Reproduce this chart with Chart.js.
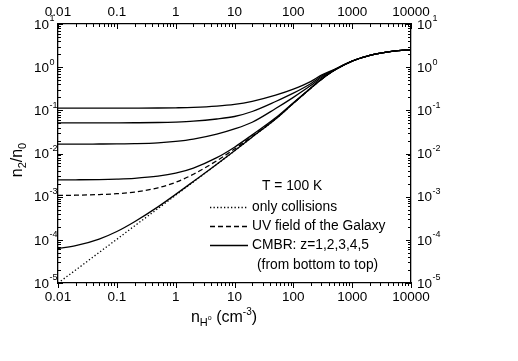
<!DOCTYPE html>
<html>
<head>
<meta charset="utf-8">
<script src="https://cdn.jsdelivr.net/npm/chart.js@4/dist/chart.umd.min.js"></script>
<style>
  html, body { margin: 0; padding: 0; background: #fff; }
  canvas { display: block; }
</style>
</head>
<body>
<canvas id="chartPoblacion" width="518" height="361"></canvas>
<script>
// densidad n_H (cm^-3)
const densidades = [0.01, 0.02, 0.05, 0.1, 0.2, 0.5, 1, 2, 5, 10, 20, 50, 100, 200, 300, 500, 1000, 2000, 5000, 10000];

// n2/n0
const soloColisiones = [1.0e-5, 2.0e-5, 5.1e-5, 1.03e-4, 2.1e-4, 5.3e-4, 1.08e-3, 2.2e-3, 5.6e-3, 1.15e-2, 2.4e-2, 6.3e-2, 0.145, 0.33, 0.52, 0.85, 1.38, 1.88, 2.35, 2.52];
const campoUV = [1.07e-3, 1.08e-3, 1.12e-3, 1.17e-3, 1.28e-3, 1.6e-3, 2.15e-3, 3.3e-3, 6.8e-3, 1.27e-2, 2.5e-2, 6.4e-2, 0.146, 0.33, 0.52, 0.85, 1.38, 1.88, 2.35, 2.52];
const cmbrZ1 = [6.3e-5, 7.3e-5, 1.04e-4, 1.56e-4, 2.63e-4, 5.8e-4, 1.13e-3, 2.25e-3, 5.65e-3, 1.16e-2, 2.4e-2, 6.3e-2, 0.145, 0.33, 0.52, 0.85, 1.38, 1.88, 2.35, 2.52];
const cmbrZ2 = [2.45e-3, 2.46e-3, 2.49e-3, 2.55e-3, 2.66e-3, 2.98e-3, 3.5e-3, 4.6e-3, 8.0e-3, 1.4e-2, 2.7e-2, 6.7e-2, 0.15, 0.335, 0.535, 0.855, 1.38, 1.88, 2.35, 2.52];
const cmbrZ3 = [1.65e-2, 1.65e-2, 1.66e-2, 1.67e-2, 1.69e-2, 1.76e-2, 1.9e-2, 2.15e-2, 2.8e-2, 3.7e-2, 5.3e-2, 0.11, 0.2, 0.38, 0.575, 0.86, 1.385, 1.88, 2.35, 2.52];
const cmbrZ4 = [5.1e-2, 5.1e-2, 5.1e-2, 5.12e-2, 5.15e-2, 5.22e-2, 5.35e-2, 5.6e-2, 6.3e-2, 7.2e-2, 9.4e-2, 0.16, 0.25, 0.42, 0.615, 0.87, 1.39, 1.88, 2.35, 2.52];
const cmbrZ5 = [0.112, 0.112, 0.112, 0.1122, 0.1125, 0.1132, 0.1145, 0.117, 0.125, 0.137, 0.162, 0.225, 0.31, 0.47, 0.655, 0.885, 1.39, 1.88, 2.35, 2.52];

// ejes
const xTickValues = [0.01, 0.1, 1, 10, 100, 1000, 10000];
const xTickLabels = ["0.01", "0.1", "1", "10", "100", "1000", "10000"];
const yTickExps = [-5, -4, -3, -2, -1, 0, 1];

// leyenda
const legendTitle = "T = 100 K";
const legendLabels = ["only collisions", "UV field of the Galaxy", "CMBR: z=1,2,3,4,5"];
const legendNote = "(from bottom to top)";

const FONT = '"Liberation Sans", Arial, sans-serif';

function puntos(serie) {
  return densidades.map((d, i) => ({ x: d, y: serie[i] }));
}

function linea(serie, dash) {
  return {
    data: puntos(serie),
    borderColor: "#000",
    borderWidth: 1.3,
    borderDash: dash,
    pointRadius: 0,
    cubicInterpolationMode: "monotone",
    fill: false,
  };
}

// marcas mayores y menores de los ejes log
function marcas(ctx, scale, lado) {
  const area = scale.chart.chartArea;
  const eMin = Math.floor(Math.log10(scale.min) + 1e-9);
  const eMax = Math.ceil(Math.log10(scale.max) - 1e-9);
  ctx.beginPath();
  for (let e = eMin; e <= eMax; e++) {
    for (let m = 1; m <= 9; m++) {
      const v = m * Math.pow(10, e);
      if (v < scale.min * 0.999 || v > scale.max * 1.001) continue;
      const p = Math.round(scale.getPixelForValue(v)) + 0.5;
      const len = m === 1 ? 5 : 3;
      if (lado === "bottom") { ctx.moveTo(p, area.bottom); ctx.lineTo(p, area.bottom + len); }
      if (lado === "top") { ctx.moveTo(p, area.top); ctx.lineTo(p, area.top + len); }
      if (lado === "left") { ctx.moveTo(area.left, p); ctx.lineTo(area.left + len, p); }
      if (lado === "right") { ctx.moveTo(area.right, p); ctx.lineTo(area.right - len, p); }
    }
  }
  ctx.stroke();
}

// "10" con exponente; ancla = borde derecho de "10" (izq) o borde izquierdo (der)
function potencia(ctx, exp, x, y, alinear) {
  ctx.textBaseline = "middle";
  ctx.font = "13.5px " + FONT;
  const w = ctx.measureText("10").width;
  const x0 = alinear === "right" ? x - w : x;
  ctx.textAlign = "left";
  ctx.fillText("10", x0, y);
  ctx.font = "9px " + FONT;
  ctx.fillText(String(exp), x0 + w + 0.5, y - 6);
}

// texto con subindices / superindices: [texto, tamano, desplazamiento]
function textoCompuesto(ctx, partes, x, y) {
  let cx = x;
  ctx.textAlign = "left";
  ctx.textBaseline = "alphabetic";
  for (const [t, size, dy] of partes) {
    ctx.font = size + "px " + FONT;
    ctx.fillText(t, cx, y + dy);
    cx += ctx.measureText(t).width;
  }
  return cx - x;
}

function anchoCompuesto(ctx, partes) {
  let w = 0;
  for (const [t, size] of partes) {
    ctx.font = size + "px " + FONT;
    w += ctx.measureText(t).width;
  }
  return w;
}

const ejesPlugin = {
  id: "ejesPlugin",
  afterDraw(chart) {
    const ctx = chart.ctx;
    const { x, x2, y, y2 } = chart.scales;
    ctx.save();
    ctx.strokeStyle = "#000";
    ctx.fillStyle = "#000";
    ctx.lineWidth = 1;
    marcas(ctx, x, "bottom");
    marcas(ctx, x2, "top");
    marcas(ctx, y, "left");
    marcas(ctx, y2, "right");

    // etiquetas x
    ctx.font = "13.5px " + FONT;
    ctx.textAlign = "center";
    ctx.textBaseline = "middle";
    xTickValues.forEach((v, i) => {
      ctx.fillText(xTickLabels[i], x.getPixelForValue(v), 297);
      ctx.fillText(xTickLabels[i], x2.getPixelForValue(v), 12);
    });

    // etiquetas y
    yTickExps.forEach((e) => {
      const py = y.getPixelForValue(Math.pow(10, e));
      potencia(ctx, e, 49, py + 1, "right");
      potencia(ctx, e, 417, py + 1, "left");
    });

    // titulo eje x
    const tituloX = [["n", 16, 0], ["H", 11, 4], ["o", 7, -2], [" (cm", 16, 0], ["-3", 10, -7], [")", 16, 0]];
    const wx = anchoCompuesto(ctx, tituloX);
    textoCompuesto(ctx, tituloX, 224 - wx / 2, 322);

    // titulo eje y
    const tituloY = [["n", 16, 0], ["2", 11, 4], ["/n", 16, 0], ["0", 11, 4]];
    ctx.save();
    ctx.translate(22, 160);
    ctx.rotate(-Math.PI / 2);
    const wy = anchoCompuesto(ctx, tituloY);
    textoCompuesto(ctx, tituloY, -wy / 2, 0);
    ctx.restore();

    // leyenda
    ctx.font = "13.8px " + FONT;
    ctx.textAlign = "left";
    ctx.textBaseline = "middle";
    ctx.fillText(legendTitle, 262, 186);
    const dashes = [[1.3, 2.2], [5, 3], []];
    const filas = [207.5, 226.5, 245.5];
    legendLabels.forEach((lab, i) => {
      ctx.beginPath();
      ctx.setLineDash(dashes[i]);
      ctx.lineWidth = 1.3;
      ctx.moveTo(210, filas[i]);
      ctx.lineTo(248, filas[i]);
      ctx.stroke();
      ctx.setLineDash([]);
      ctx.fillText(lab, 252, filas[i]);
    });
    ctx.fillText(legendNote, 257, 265);
    ctx.restore();
  },
};

function ejeLog(pos, min, max, tam) {
  return {
    type: "logarithmic",
    position: pos,
    min: min,
    max: max,
    ticks: { display: false },
    grid: { drawOnChartArea: false, drawTicks: false },
    border: { display: true, color: "#000", width: 1.3 },
    afterFit(scale) {
      if (pos === "top" || pos === "bottom") scale.height = tam;
      else scale.width = tam;
    },
  };
}

document.addEventListener("DOMContentLoaded", function () {
  const ctx = document.getElementById("chartPoblacion").getContext("2d");
  new Chart(ctx, {
    type: "line",
    data: {
      datasets: [
        linea(soloColisiones, [1.3, 2.2]),
        linea(campoUV, [5, 3]),
        linea(cmbrZ1, []),
        linea(cmbrZ2, []),
        linea(cmbrZ3, []),
        linea(cmbrZ4, []),
        linea(cmbrZ5, []),
      ],
    },
    options: {
      responsive: false,
      animation: false,
      layout: { padding: 0 },
      plugins: { legend: { display: false }, tooltip: { enabled: false } },
      scales: {
        x: ejeLog("bottom", 0.01, 10000, 78),
        x2: ejeLog("top", 0.01, 10000, 24),
        y: ejeLog("left", 1e-5, 10, 58),
        y2: ejeLog("right", 1e-5, 10, 107),
      },
    },
    plugins: [ejesPlugin],
  });
});
</script>
</body>
</html>
